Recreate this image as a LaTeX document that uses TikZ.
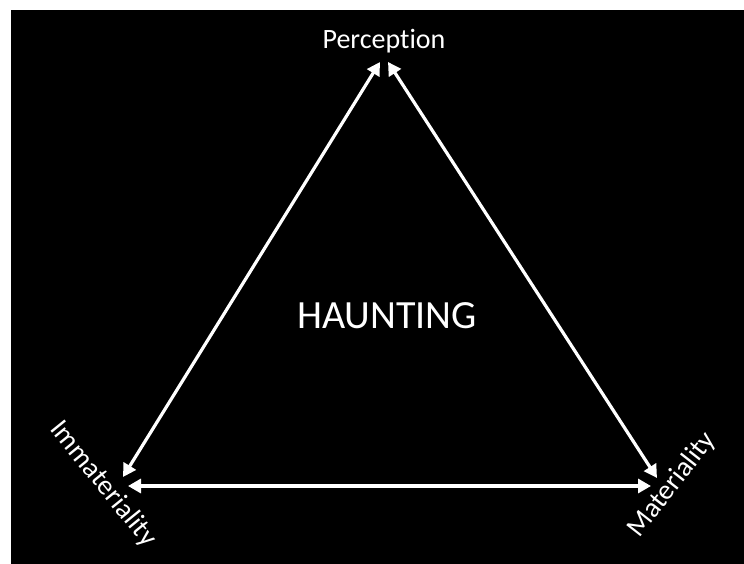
\documentclass[tikz,border=0pt]{standalone}
\usepackage{fontspec}
\setmainfont{Carlito}[Ligatures=NoCommon]
\usetikzlibrary{arrows.meta}
\definecolor{hauntbg}{HTML}{000000}
\definecolor{hauntfg}{HTML}{FFFFFF}

\begin{document}
\begin{tikzpicture}[x=1pt, y=-1pt,
    link/.style={hauntfg, line width=3.2pt, {Triangle[length=13pt,width=14pt]}-{Triangle[length=13pt,width=14pt]}},
    corner/.style={hauntfg, font=\fontsize{28}{30}\selectfont, inner sep=0pt}]
  \useasboundingbox (0,0) rectangle (744,564);
  \fill[white] (0,0) rectangle (744,564);
  \fill[hauntbg] (11,10) rectangle (744,564);

  % ---------- labels ----------
  \node[corner] (perc) at (384,41) {Perception};
  \node[corner, rotate=-51] (immat) at (103,484) {Immateriality};
  \node[corner, rotate=52] (mat) at (672,485) {Materiality};
  \node[hauntfg, font=\fontsize{40}{44}\selectfont, inner sep=0pt] (haunt) at (387,316) {HAUNTING};

  % ---------- arrow end points ----------
  \coordinate (topL) at (380,62);
  \coordinate (topR) at (388,62);
  \coordinate (leftU) at (123,477);
  \coordinate (leftH) at (128,486);
  \coordinate (rightU) at (657,478);
  \coordinate (rightH) at (651,486);

  \draw[link] (topL) -- (leftU);
  \draw[link] (topR) -- (rightU);
  \draw[link] (leftH) -- (rightH);
\end{tikzpicture}
\end{document}
